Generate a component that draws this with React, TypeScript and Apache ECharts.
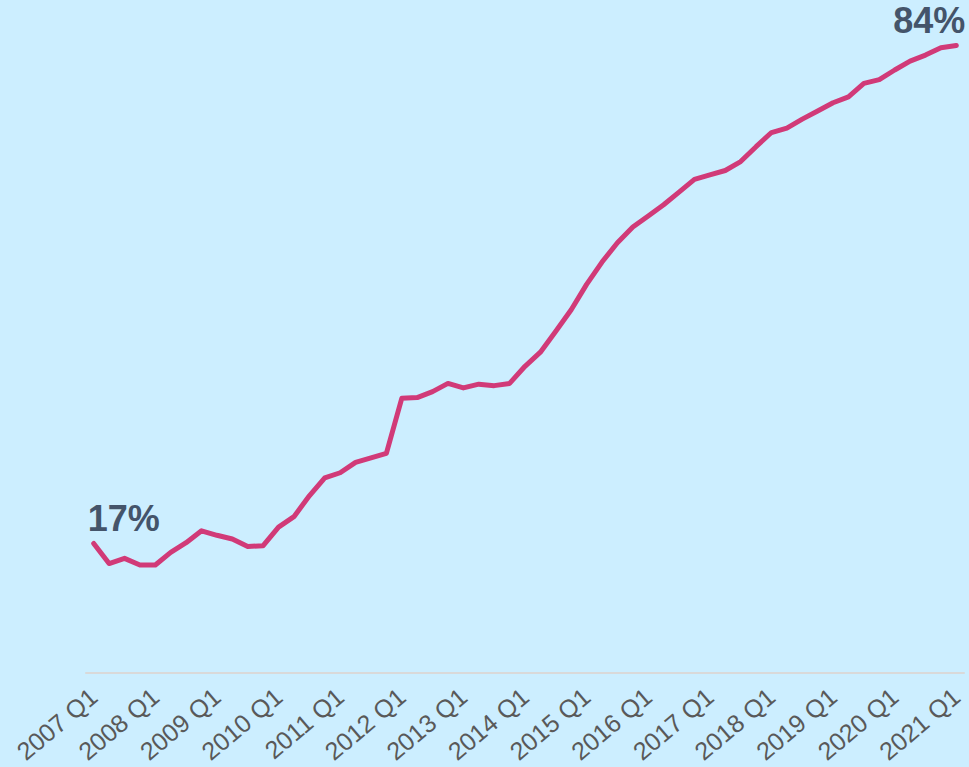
import React, { useEffect, useRef } from "react";
import * as echarts from "echarts";

const years = [2007, 2008, 2009, 2010, 2011, 2012, 2013, 2014, 2015, 2016, 2017, 2018, 2019, 2020, 2021];
const quarters = ["Q1", "Q2", "Q3", "Q4"];
const categories: string[] = [];
years.forEach((y) => {
  quarters.forEach((q) => {
    if (y === 2021 && q !== "Q1") return;
    categories.push(`${y} ${q}`);
  });
});

const shareValues = [
  17.4, 14.7, 15.4, 14.5, 14.5, 16.2, 17.5, 19.1, 18.5, 18.0, 17.0, 17.1,
  19.6, 21.0, 23.8, 26.2, 26.9, 28.3, 28.9, 29.5, 36.9, 37.0, 37.8, 38.9,
  38.3, 38.8, 38.6, 38.9, 41.2, 43.1, 45.9, 48.8, 52.2, 55.2, 57.8, 59.9,
  61.4, 62.9, 64.6, 66.3, 66.9, 67.5, 68.7, 70.7, 72.6, 73.2, 74.4, 75.5,
  76.6, 77.4, 79.2, 79.7, 81.0, 82.2, 83.0, 84.0, 84.3,
];

export default function App() {
  const ref = useRef<HTMLDivElement>(null);
  useEffect(() => {
    document.body.style.margin = "0";
    const chart = echarts.init(ref.current!, null, { renderer: "svg" });
    const last = shareValues.length - 1;
    const labelStyle = {
      show: true,
      position: "top" as const,
      fontSize: 36,
      fontWeight: "bold" as const,
      fontFamily: "Liberation Sans, Arial, sans-serif",
      color: "#44546A",
      formatter: (p: any) => `${Math.round(p.value)}%`,
    };
    const data = shareValues.map((v, i) => {
      if (i === 0) {
        return { value: v, label: { ...labelStyle, align: "left", distance: 6, offset: [-6, 0] } };
      }
      if (i === last) {
        return { value: v, label: { ...labelStyle, align: "right", distance: 6, offset: [9, 0] } };
      }
      return { value: v };
    });
    chart.setOption({
      animation: false,
      backgroundColor: "#CCEEFF",
      grid: { left: 86, right: 5, top: 3, bottom: 94, containLabel: false },
      xAxis: {
        type: "category",
        data: categories,
        boundaryGap: true,
        axisLine: { show: true, lineStyle: { color: "#D9D9D9", width: 2 } },
        axisTick: { show: false },
        axisLabel: {
          interval: 3,
          rotate: 40,
          margin: 20,
          fontSize: 25,
          color: "#595959",
          fontFamily: "Liberation Sans, Arial, sans-serif",
        },
        splitLine: { show: false },
      },
      yAxis: {
        type: "value",
        min: 0,
        max: 90,
        show: false,
        splitLine: { show: false },
      },
      series: [
        {
          type: "line",
          data,
          symbol: "circle",
          symbolSize: 1,
          showSymbol: true,
          itemStyle: { color: "#D13A78" },
          smooth: false,
          lineStyle: { color: "#D13A78", width: 5, cap: "round", join: "round" },
          label: { show: false },
        },
      ],
    });
    return () => chart.dispose();
  }, []);
  return (
    <div
      ref={ref}
      style={{ position: "fixed", left: 0, top: 0, width: 969, height: 767 }}
    />
  );
}
